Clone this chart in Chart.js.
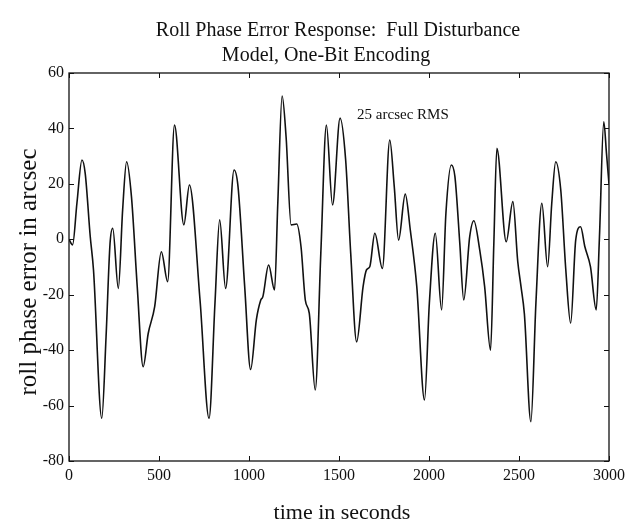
<!DOCTYPE html>
<html>
<head>
<meta charset="utf-8">
<script src="https://cdn.jsdelivr.net/npm/chart.js@4.4.1/dist/chart.umd.min.js"></script>
<style>
  body { margin: 0; background: #fff; }
  canvas { display: block; }
</style>
</head>
<body>
<canvas id="rollChart" width="630" height="529"></canvas>
<script>
// Roll phase error trace (time in s, error in arcsec)
const times = [0, 20, 44, 72, 90, 118, 136, 182, 206, 228, 243, 274, 298, 320, 347, 379, 412, 440, 476, 513,
  548, 586, 638, 669, 728, 778, 811, 837, 870, 917, 939, 976, 1009, 1041, 1065, 1077, 1109, 1142, 1160, 1184,
  1206, 1234, 1265, 1289, 1313, 1335, 1368, 1399, 1430, 1464, 1506, 1537, 1565, 1598, 1634, 1653, 1671, 1699,
  1741, 1782, 1807, 1831, 1868, 1896, 1932, 1975, 2002, 2035, 2070, 2094, 2124, 2144, 2171, 2193, 2226, 2249,
  2282, 2309, 2342, 2360, 2377, 2429, 2466, 2493, 2511, 2530, 2566, 2594, 2627, 2659, 2682, 2704, 2732, 2760,
  2787, 2815, 2842, 2866, 2897, 2929, 2947, 2971, 2986, 3000];
const rollError = [0, -2, 13, 28.6, 23.8, 1, -11, -64.6, -35, -1.5, 4, -17.7, 10.6, 28, 15.4, -17, -46, -34, -24.3, -4.5,
  -15.3, 41.2, 5.2, 19.6, -22, -64.6, -23, 7, -17.7, 25, 19, -17, -47, -29, -22, -20.7, -9.3, -18.3, 13, 51.7,
  37, 5.2, 5.5, -2.7, -22, -26.7, -54.4, -5, 41.2, 12.4, 43.7, 28.6, -5, -37, -17, -11, -9.9, 2.2,
  -10.5, 35.8, 19, -0.3, 16.3, 3.4, -17, -58, -23, 2.2, -25.5, 9.4, 26.8, 22.6, -1.4, -21.9, 0.9, 6.7,
  -3.9, -17, -40, -2, 32.8, -0.9, 13.6, -8, -17, -27, -65.8, -23, 13, -9.9, 13, 28, 17.8, -11,
  -30.3, -0.3, 4.5, -2.7, -9.9, -25.5, 0.9, 42.4, 31, 20];

const titleLines = ['Roll Phase Error Response:  Full Disturbance', 'Model, One-Bit Encoding'];
const xTitle = 'time in seconds';
const yTitle = 'roll phase error in arcsec';
const note = '25 arcsec RMS';

const serif = '"Liberation Serif", "Times New Roman", serif';
const ink = '#111';

// box round the plot, inward ticks on all four sides, and the titles
const framePlugin = {
  id: 'frame',
  afterDraw(chart) {
    const { ctx, chartArea: a, scales: { x, y } } = chart;
    ctx.save();
    ctx.strokeStyle = ink;
    ctx.lineWidth = 1.3;
    ctx.strokeRect(a.left, a.top, a.right - a.left, a.bottom - a.top);
    ctx.lineWidth = 1;
    ctx.beginPath();
    x.ticks.forEach(t => {
      const px = Math.round(x.getPixelForValue(t.value)) + 0.5;
      ctx.moveTo(px, a.bottom); ctx.lineTo(px, a.bottom - 5);
      ctx.moveTo(px, a.top); ctx.lineTo(px, a.top + 5);
    });
    y.ticks.forEach(t => {
      const py = Math.round(y.getPixelForValue(t.value)) + 0.5;
      ctx.moveTo(a.left, py); ctx.lineTo(a.left + 5, py);
      ctx.moveTo(a.right, py); ctx.lineTo(a.right - 5, py);
    });
    ctx.stroke();

    ctx.fillStyle = ink;
    ctx.textAlign = 'center';
    ctx.textBaseline = 'alphabetic';
    ctx.font = '20px ' + serif;
    ctx.fillText(titleLines[0], 338, 36);
    ctx.fillText(titleLines[1], 326, 61);

    ctx.font = '22px ' + serif;
    ctx.fillText(xTitle, 342, 519);

    ctx.save();
    ctx.translate(36, 272);
    ctx.rotate(-Math.PI / 2);
    ctx.font = '25px ' + serif;
    ctx.fillText(yTitle, 0, 0);
    ctx.restore();

    ctx.font = '15px ' + serif;
    ctx.fillText(note, x.getPixelForValue(1855), y.getPixelForValue(43.5));
    ctx.restore();
  }
};

const tickFont = { family: serif, size: 16 };

new Chart(document.getElementById('rollChart'), {
  type: 'line',
  data: {
    datasets: [{
      data: times.map((t, i) => ({ x: t, y: rollError[i] })),
      borderColor: ink,
      borderWidth: 1.6,
      pointRadius: 0,
      cubicInterpolationMode: 'monotone',
      fill: false
    }]
  },
  options: {
    responsive: false,
    animation: false,
    layout: { padding: { top: 73, right: 18, left: 0, bottom: 0 } },
    plugins: { legend: { display: false }, tooltip: { enabled: false } },
    scales: {
      x: {
        type: 'linear', min: 0, max: 3000,
        ticks: { stepSize: 500, font: tickFont, color: ink, padding: 5, maxRotation: 0, callback: v => String(v) },
        grid: { display: false, drawTicks: false },
        border: { display: false },
        afterFit(s) { s.height = 68; }
      },
      y: {
        min: -80, max: 60,
        ticks: { stepSize: 20, font: tickFont, color: ink, padding: 5, callback: v => String(v) },
        grid: { display: false, drawTicks: false },
        border: { display: false },
        afterFit(s) { s.width = 69; }
      }
    }
  },
  plugins: [framePlugin]
});
</script>
</body>
</html>
